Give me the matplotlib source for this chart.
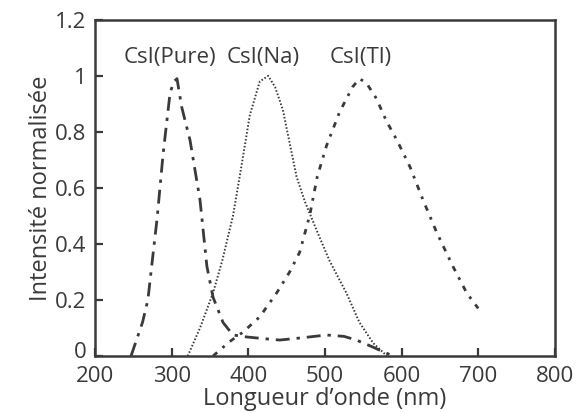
import matplotlib
matplotlib.use("Agg")
import matplotlib.pyplot as plt
import matplotlib.transforms as mtransforms
from matplotlib.ticker import FuncFormatter

# CsI(Pure) emission
pure_x = [247, 252, 262, 269, 276, 281, 289, 298, 303, 307, 313, 324, 337,
          346, 354, 367, 380, 398, 420, 441, 470, 502, 525, 541, 560, 572, 589]
pure_y = [0.0, 0.04, 0.12, 0.2, 0.37, 0.49, 0.725, 0.94, 0.98, 0.99, 0.89,
          0.77, 0.557, 0.32, 0.21, 0.12, 0.075, 0.068, 0.062, 0.057, 0.065,
          0.075, 0.07, 0.057, 0.035, 0.02, 0.0]

# CsI(Na) emission
na_x = [321, 337, 354, 366, 380, 390, 402, 415, 426, 435, 445, 454, 463, 474,
        489, 506, 528, 545, 563, 581]
na_y = [0.0, 0.1, 0.225, 0.34, 0.5, 0.66, 0.86, 0.98, 1.0, 0.96, 0.88, 0.76,
        0.64, 0.55, 0.45, 0.34, 0.225, 0.12, 0.046, 0.0]

# CsI(Tl) emission
tl_x = [354, 375, 393, 415, 437, 454, 467, 480, 490, 502, 519, 536, 545, 554,
        567, 580, 594, 611, 628, 646, 667, 685, 700]
tl_y = [0.0, 0.05, 0.085, 0.14, 0.225, 0.3, 0.37, 0.5, 0.64, 0.75, 0.87,
        0.96, 0.99, 0.975, 0.92, 0.84, 0.77, 0.675, 0.557, 0.44, 0.32, 0.225,
        0.17]

labels = ["CsI(Pure)", "CsI(Na)", "CsI(Tl)"]
label_x = [298, 419, 547]

plt.rcParams["font.family"] = ["Open Sans", "DejaVu Sans"]
ink = "#3a3a3a"

fig = plt.figure(figsize=(5.81, 4.13), dpi=100)
ax = fig.add_axes([0.1635, 0.138, 0.7915, 0.814])

ax.plot(pure_x, pure_y, color=ink, lw=2.0, ls=(0, (5, 2.5, 1.2, 2.5)))
ax.plot(na_x, na_y, color=ink, lw=1.4, ls=(0, (0.8, 1.0)))
ax.plot(tl_x, tl_y, color=ink, lw=2.0, ls=(0, (2, 2.5, 1, 2.5)))

for lab, lx in zip(labels, label_x):
    ax.text(lx, 1.065, lab, ha="center", va="center", fontsize=16, color=ink)

ax.set_xlim(200, 800)
ax.set_ylim(0, 1.2)
ax.set_xticks([200, 300, 400, 500, 600, 700, 800])
ax.set_yticks([0, 0.2, 0.4, 0.6, 0.8, 1.0, 1.2])
ax.yaxis.set_major_formatter(FuncFormatter(lambda v, p: f"{v:g}"))
ax.tick_params(direction="in", length=6, width=1.6, colors=ink,
               labelsize=16)
ax.tick_params(axis="y", pad=6)
ax.tick_params(axis="x", pad=7)
for s in ax.spines.values():
    s.set_linewidth(1.8)
    s.set_color(ink)

ax.set_xlabel("Longueur d’onde (nm)", fontsize=17, color=ink, labelpad=0)
ax.set_ylabel("Intensité normalisée", fontsize=17, color=ink, labelpad=2)

# lift the "0" label a little so it clears the "200" below it
fig.canvas.draw()
zero_lab = ax.yaxis.get_major_ticks()[0].label1
zero_lab.set_transform(zero_lab.get_transform()
                       + mtransforms.ScaledTranslation(0, 4 / 72,
                                                       fig.dpi_scale_trans))

fig.savefig("out.png", dpi=100)
